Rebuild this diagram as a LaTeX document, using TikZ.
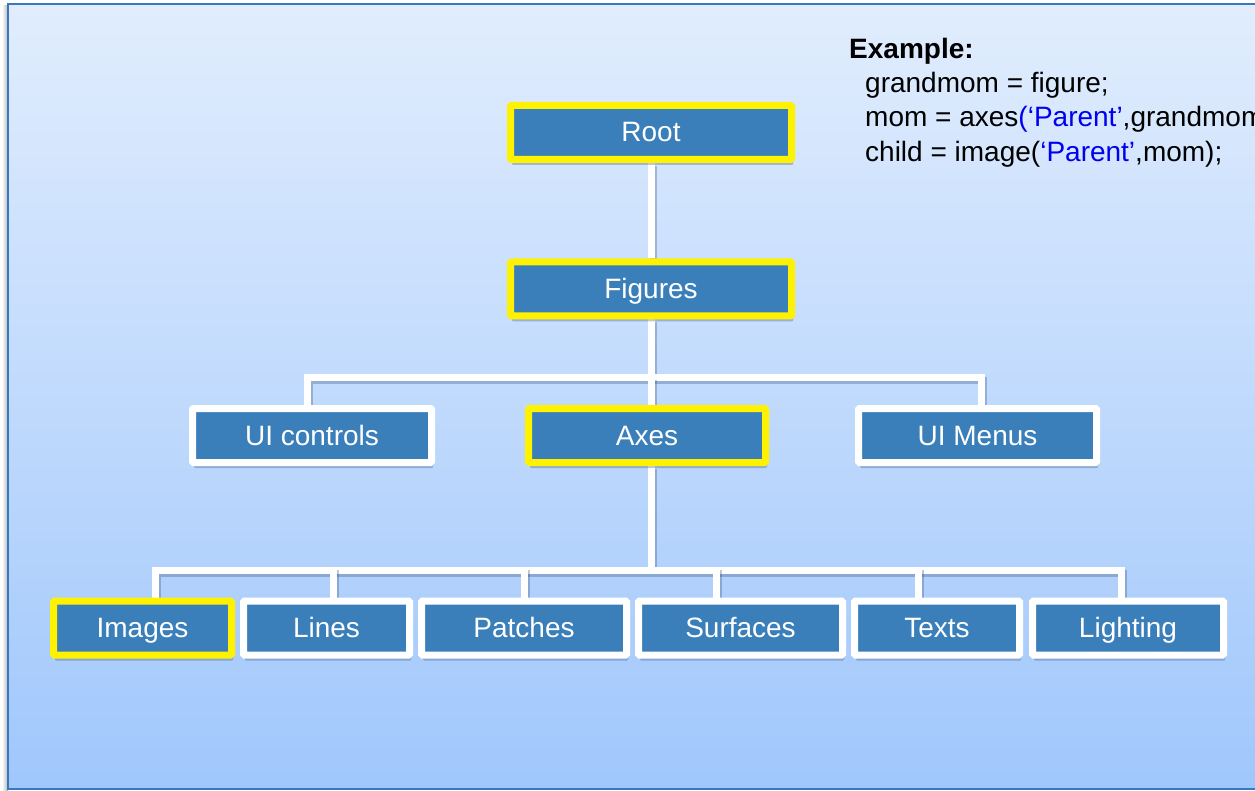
\documentclass[tikz,border=0pt]{standalone}
\usepackage{fontspec}
\setmainfont{Liberation Sans}
\usetikzlibrary{shadows}
\definecolor{boxblue}{HTML}{3A7FB9}
\definecolor{frameblue}{HTML}{3779BF}
\definecolor{bgtop}{HTML}{E1EDFD}
\definecolor{bgbot}{HTML}{A0C7FC}
\definecolor{codeblue}{HTML}{0000F0}
\definecolor{shadowcol}{HTML}{2E4A78}
\pgfdeclarelayer{bg}
\pgfdeclarelayer{links}
\pgfsetlayers{bg,links,main}

\begin{document}
\begin{tikzpicture}[x=1pt, y=-1pt,
    box/.style={draw=white, line width=7pt, fill=boxblue, rounded corners=1pt,
        inner sep=0pt, minimum height=54pt, text height=20pt, text depth=1pt,
        text=white, font=\fontsize{28}{34}\selectfont,
        drop shadow={shadow xshift=1.5pt, shadow yshift=-5.5pt, opacity=.3, fill=shadowcol}},
    sel/.style={box, draw=yellow},
    link/.style={draw=white, line width=7pt,
        preaction={draw=shadowcol, opacity=.3, line width=7pt,
            transform canvas={shift={(2pt,-3pt)}}}},
    code/.style={anchor=base west, inner sep=0pt, font=\fontsize{28}{34}\selectfont}]
    \useasboundingbox (0,0) rectangle (1255,791);
    \begin{pgfonlayer}{bg}
        \shade[left color=white, right color=black!30] (2,6) rectangle (8,791);
        \shade[top color=bgtop, bottom color=bgbot, draw=frameblue, line width=2pt]
            (8,4) rectangle (1265,789);
    \end{pgfonlayer}

    % hierarchy
    \node[sel, minimum width=281pt] (root) at (651,132.5) {Root};
    \node[sel, minimum width=281pt] (fig) at (651,289) {Figures};

    \node[box, minimum width=239pt] (uic) at (312,435.5) {UI controls};
    \node[sel, minimum width=237pt] (axes) at (647,435.5) {Axes};
    \node[box, minimum width=238pt] (uim) at (977.5,435.5) {UI Menus};

    \node[sel, minimum width=178pt] (img) at (142.5,628) {Images};
    \node[box, minimum width=166pt] (lin) at (326.5,628) {Lines};
    \node[box, minimum width=205pt] (pat) at (524,628) {Patches};
    \node[box, minimum width=204pt] (srf) at (740.5,628) {Surfaces};
    \node[box, minimum width=165pt] (txt) at (937,628) {Texts};
    \node[box, minimum width=191pt] (lig) at (1128,628) {Lighting};

    % connectors
    \begin{pgfonlayer}{links}
        \coordinate (bus1) at (651,377);
        \coordinate (bus2) at (651,570);
        \draw[link] (root.south) -- (fig.north);
        \draw[link] (fig.south) -- (bus1);
        \draw[link] ([xshift=-5pt]uic.north) |- (bus1) -| ([xshift=3.5pt]uim.north);
        \draw[link] (bus1) -- ([xshift=4pt]axes.north);
        \draw[link] ([xshift=4pt]axes.south) -- (bus2);
        \draw[link] ([xshift=12.5pt]img.north) |- (bus2) -| ([xshift=-7pt]lig.north);
        \foreach \n/\d in {lin/6.5, pat/0, srf/-24.5, txt/-19}
            \draw[link] ([xshift=\d pt]\n.north) -- ++(0,-31);
    \end{pgfonlayer}

    % example code
    \node[code, font=\bfseries\fontsize{28}{34}\selectfont] (ex) at (849,59) {Example:};
    \node[code] (ln1) at (865,93) {grandmom = figure;};
    \node[code] (ln2) at (865,127) {mom = axes\textcolor{codeblue}{(‘Parent’},grandmom);};
    \node[code] (ln3) at (865,162) {child = image(\textcolor{codeblue}{‘Parent’},mom);};
\end{tikzpicture}
\end{document}
